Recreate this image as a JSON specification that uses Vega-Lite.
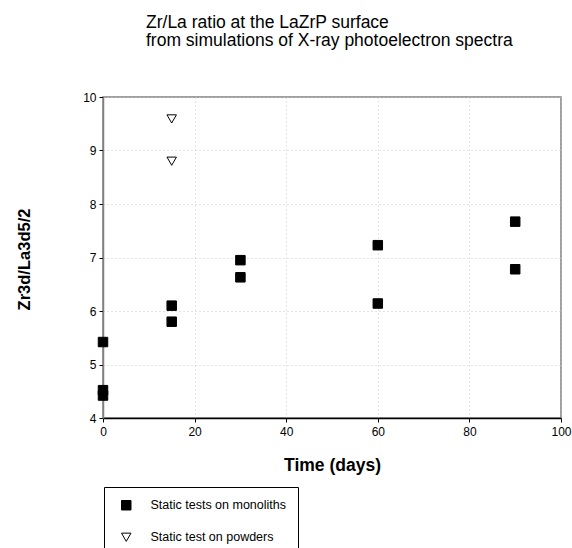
{
  "$schema": "https://vega.github.io/schema/vega-lite/v6.json",
  "autosize": "none",
  "padding": {"left": 103, "top": 97, "right": 11, "bottom": 130},
  "width": 458,
  "height": 321,
  "background": "white",
  "title": {
    "text": ["Zr/La ratio at the LaZrP surface", "from simulations of X-ray photoelectron spectra"],
    "anchor": "start",
    "frame": "group",
    "align": "left",
    "dx": 43,
    "offset": 42,
    "font": "Liberation Sans",
    "fontSize": 17.5,
    "fontWeight": "normal",
    "color": "black",
    "lineHeight": 18
  },
  "config": {
    "font": "Liberation Sans",
    "view": {"stroke": "#808080", "strokeWidth": 1.5},
    "axis": {
      "labelFont": "Liberation Sans",
      "titleFont": "Liberation Sans",
      "labelColor": "black",
      "titleColor": "black",
      "labelFontSize": 12,
      "titleFontSize": 17.5,
      "titleFontWeight": "bold",
      "tickColor": "black",
      "tickSize": 4,
      "labelFlush": false,
      "labelOverlap": false,
      "gridColor": "#c8c8c8",
      "gridDash": [1, 3],
      "gridWidth": 1
    }
  },
  "data": {
    "values": [
      {"days": 0, "ratio": 5.42, "series": "Static tests on monoliths"},
      {"days": 0, "ratio": 4.52, "series": "Static tests on monoliths"},
      {"days": 0, "ratio": 4.42, "series": "Static tests on monoliths"},
      {"days": 15, "ratio": 6.10, "series": "Static tests on monoliths"},
      {"days": 15, "ratio": 5.80, "series": "Static tests on monoliths"},
      {"days": 30, "ratio": 6.95, "series": "Static tests on monoliths"},
      {"days": 30, "ratio": 6.63, "series": "Static tests on monoliths"},
      {"days": 60, "ratio": 7.23, "series": "Static tests on monoliths"},
      {"days": 60, "ratio": 6.14, "series": "Static tests on monoliths"},
      {"days": 90, "ratio": 7.67, "series": "Static tests on monoliths"},
      {"days": 90, "ratio": 6.78, "series": "Static tests on monoliths"},
      {"days": 15, "ratio": 9.59, "series": "Static test on powders"},
      {"days": 15, "ratio": 8.80, "series": "Static test on powders"}
    ]
  },
  "mark": {"type": "point", "strokeWidth": 1, "opacity": 1, "clip": false},
  "encoding": {
    "x": {
      "field": "days",
      "type": "quantitative",
      "scale": {"domain": [0, 100], "nice": false, "zero": false},
      "axis": {
        "title": "Time (days)",
        "values": [0, 20, 40, 60, 80, 100],
        "gridValues": [20, 40, 60, 80],
        "domainColor": "black",
        "domainWidth": 1.5,
        "labelPadding": 4,
        "titlePadding": 19
      }
    },
    "y": {
      "field": "ratio",
      "type": "quantitative",
      "scale": {"domain": [4, 10], "nice": false, "zero": false},
      "axis": {
        "title": "Zr3d/La3d5/2",
        "titleFontSize": 16.5,
        "values": [4, 5, 6, 7, 8, 9, 10],
        "gridValues": [5, 6, 7, 8, 9],
        "domainColor": "#808080",
        "domainWidth": 1.5,
        "labelPadding": 3,
        "titleX": -79,
        "titleY": 162,
        "titleAlign": "center",
        "titleBaseline": "middle",
        "titleAngle": -90
      }
    },
    "shape": {
      "field": "series",
      "type": "nominal",
      "scale": {"domain": ["Static tests on monoliths", "Static test on powders"], "range": ["square", "triangle-down"]},
      "legend": {
        "title": null,
        "orient": "none",
        "legendX": 1,
        "legendY": 390,
        "direction": "vertical",
        "strokeColor": "black",
        "padding": 12,
        "symbolOffset": 4,
        "labelFontSize": 12.5,
        "labelFont": "Liberation Sans",
        "labelColor": "black",
        "labelOffset": 18,
        "rowPadding": 19,
        "symbolSize": 90,
        "symbolStrokeWidth": 1
      }
    },
    "fill": {
      "field": "series",
      "type": "nominal",
      "scale": {"domain": ["Static tests on monoliths", "Static test on powders"], "range": ["black", "white"]}
    },
    "stroke": {
      "field": "series",
      "type": "nominal",
      "scale": {"domain": ["Static tests on monoliths", "Static test on powders"], "range": ["black", "black"]}
    },
    "size": {"value": 90}
  }
}
